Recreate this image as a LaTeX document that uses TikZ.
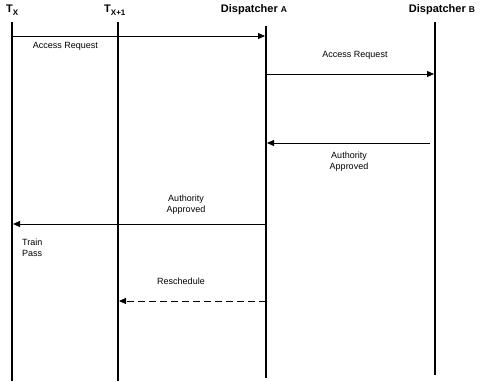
\documentclass[tikz,border=0pt]{standalone}
\usepackage{fontspec}
\setmainfont{Liberation Sans}
\usetikzlibrary{arrows.meta}
\begin{document}
\begin{tikzpicture}[x=1pt,y=-1pt,
  life/.style={line width=1.5pt},
  msg/.style={line width=0.9pt,-{Triangle[length=7pt,width=6pt]}},
  msgd/.style={msg,dash pattern=on 7pt off 4pt},
  hdr/.style={font=\fontsize{11}{13}\selectfont\bfseries,inner sep=0pt},
  lbl/.style={font=\fontsize{9}{11}\selectfont,inner sep=0pt,align=center}]
\useasboundingbox (0,0) rectangle (482,381);
% headers
\node[hdr,anchor=west] (hx) at (6,10) {T\raisebox{-2.5pt}{\fontsize{8}{9}\selectfont X}};
\node[hdr,anchor=west] (hx1) at (104,10) {T\raisebox{-2.5pt}{\fontsize{8}{9}\selectfont X+1}};
\node[hdr] (hA) at (254,10) {Dispatcher {\fontsize{8.5}{9}\selectfont A}};
\node[hdr] (hB) at (442,10) {Dispatcher {\fontsize{8.5}{9}\selectfont B}};
% lifelines
\coordinate (tx0) at (12,22); \coordinate (tx1) at (12,381);
\coordinate (ty0) at (118,22); \coordinate (ty1) at (118,381);
\coordinate (a0) at (266,26); \coordinate (a1) at (266,378);
\coordinate (b0) at (435,22); \coordinate (b1) at (435,375);
\draw[life] (tx0) -- (tx1);
\draw[life] (ty0) -- (ty1);
\draw[life] (a0) -- (a1);
\draw[life] (b0) -- (b1);
% message anchors
\coordinate (m1s) at (12,36); \coordinate (m1e) at (265,36);
\coordinate (m2s) at (266,74); \coordinate (m2e) at (434,74);
\coordinate (m3s) at (430,143); \coordinate (m3e) at (267,143);
\coordinate (m4s) at (266,224); \coordinate (m4e) at (13,224);
\coordinate (m5s) at (266,301); \coordinate (m5e) at (119,301);
\draw[msg] (m1s) -- (m1e);
\draw[msg] (m2s) -- (m2e);
\draw[msg] (m3s) -- (m3e);
\draw[msg] (m4s) -- (m4e);
\draw[msgd] (m5s) -- (m5e);
% labels
\node[lbl] (l1) at (65.5,46) {Access Request};
\node[lbl] (l2) at (355,55) {Access Request};
\node[lbl] (l3) at (349,162) {Authority\\Approved};
\node[lbl] (l4) at (186,204.5) {Authority\\Approved};
\node[lbl,align=left,anchor=west] (l5) at (22,248) {Train\\Pass};
\node[lbl] (l6) at (181,281) {Reschedule};
\end{tikzpicture}
\end{document}
